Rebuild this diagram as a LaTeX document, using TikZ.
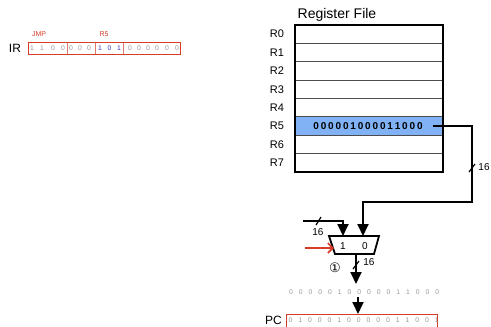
\documentclass[tikz,border=0pt]{standalone}
\usepackage{fontspec}
\setmainfont{Liberation Sans}
\newfontfamily\symfont{DejaVu Sans}
\usetikzlibrary{arrows.meta}
\definecolor{regblue}{RGB}{128,178,245}
\definecolor{irred}{RGB}{215,60,40}
\definecolor{irdiv}{RGB}{225,120,110}
\definecolor{bitgray}{RGB}{150,150,150}
\definecolor{bitblue}{RGB}{50,50,190}
\begin{document}
\begin{tikzpicture}[x=1pt,y=-1pt,
  wire/.style={line width=1.8pt},
  bigarrow/.style={-{Triangle[width=11pt,length=12pt]}},
  bit/.style={font=\fontsize{6.8}{7}\selectfont, text=bitgray, inner sep=0pt},
  lbl/.style={font=\fontsize{11}{12}\selectfont, inner sep=0pt},
  num/.style={font=\fontsize{10}{11}\selectfont, inner sep=0pt},
  redlbl/.style={font=\fontsize{7}{8}\selectfont, text=irred, inner sep=0pt},
  regrow/.style={draw=black!70, line width=0.9pt, minimum width=148pt, minimum height=18.375pt, inner sep=0pt},
  slash/.style={line width=1.2pt}]
\useasboundingbox (0,0) rectangle (491,327);

% ---------- IR ----------
\node[font=\fontsize{12}{13}\selectfont, inner sep=0pt] (irlbl) at (15,48) {IR};
\node[redlbl] (jmp) at (39,34) {JMP};
\node[redlbl] (r5lbl) at (104,34) {R5};
\draw[irdiv, line width=1pt] (67,42) -- (67,54) (95,42) -- (95,54) (123,42) -- (123,54);
\draw[irred, line width=1pt] (28,42) rectangle (180,54);
\foreach \xx/\b [count=\i] in {32/1,42/1,53/0,63/0,71/0,80/0,89/0,130/0,139/0,148/0,157/0,167/0,177/0}
  \node[bit] (irb\i) at (\xx,48) {\b};
\foreach \xx/\b [count=\i] in {100/1,109.5/0,119/1}
  \node[bit, text=bitblue] (irc\i) at (\xx,48) {\b};

% ---------- Register file ----------
\node[font=\fontsize{14}{15}\selectfont, inner sep=0pt] (rftitle) at (337,15) {Register File};
\foreach \r in {0,...,7}{
  \node[regrow] (reg\r) at (369,{25+18.375*(\r+0.5)}) {};
  \node[lbl] (rl\r) at (277,{25+18.375*(\r+0.5)}) {R\r};
}
\fill[regblue] (reg5.north west) rectangle (reg5.south east);
\draw[black!70, line width=0.9pt] (reg5.north west) rectangle (reg5.south east);
\draw[line width=2pt] (295,25) rectangle (443,172);
\foreach \d [count=\i] in {0,0,0,0,0,1,0,0,0,0,1,1,0,0,0}
  \node[font=\bfseries\fontsize{10}{11}\selectfont, inner sep=0pt] (rv\i) at ({312.5+7.4*(\i-0.5)},126) {\d};

% ---------- wires ----------
\coordinate (r5out) at (433,126);
\coordinate (c1) at (472,126);
\coordinate (c2) at (472,202);
\coordinate (c3) at (363,202);
\coordinate (mux0) at (363,236);
\coordinate (lin) at (303,221);
\coordinate (c4) at (343,221);
\coordinate (mux1) at (343,236);
\coordinate (muxout) at (356,254);
\coordinate (outtip) at (356,284);

\draw[wire, bigarrow] (r5out) -- (c1) -- (c2) -- (c3) -- (mux0);
\draw[slash] (469,172) -- (475,164);
\node[num] (w16a) at (484,167) {16};

\draw[wire, bigarrow] (lin) -- (c4) -- (mux1);
\draw[slash] (316,225) -- (321,217);
\node[num] (w16b) at (318,232.5) {16};

% ---------- mux ----------
\draw[line width=1.8pt, fill=white] (329,236) -- (379,236) -- (374,254) -- (335,254) -- cycle;
\node[num] (m1) at (343,246) {1};
\node[num] (m0) at (365,246) {0};
\coordinate (selin) at (334,248);
\coordinate (selstart) at (305,248);
\draw[irred, line width=1.6pt, -{Straight Barb[length=5pt,width=10pt]}] (selstart) -- (selin);

\draw[wire, bigarrow] (muxout) -- (outtip);
\draw[slash] (353,269) -- (359,261);
\node[num] (w16c) at (369,262) {16};
\node[font=\symfont\fontsize{13}{14}\selectfont, inner sep=0pt] (step1) at (335,268) {①};

% ---------- result bits & PC ----------
\foreach \d [count=\i] in {0,0,0,0,0,1,0,0,0,0,0,1,1,0,0,0}
  \node[bit] (sb\i) at ({291+9.75*(\i-1)},292) {\d};
\coordinate (a2top) at (358,297);
\coordinate (a2tip) at (358,314);
\draw[wire, bigarrow] (a2top) -- (a2tip);

\node[font=\fontsize{12}{13}\selectfont, inner sep=0pt] (pclbl) at (273.5,320.5) {PC};
\draw[irred, line width=1pt] (286,314) rectangle (437,327.5);
\foreach \d [count=\i] in {0,1,0,0,0,1,0,0,0,0,0,1,1,0,0,1}
  \node[bit] (pb\i) at ({290.5+9.75*(\i-1)},320.5) {\d};
\end{tikzpicture}
\end{document}
